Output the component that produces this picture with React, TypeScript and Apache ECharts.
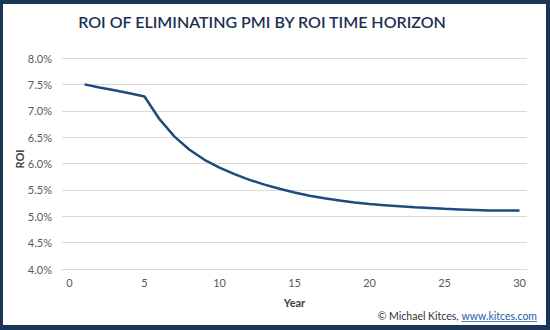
import React, { useEffect, useRef } from "react";
import * as echarts from "echarts";

const titleText = "ROI OF ELIMINATING PMI BY ROI TIME HORIZON";
const years = [1, 2, 3, 4, 5, 6, 7, 8, 9, 10, 11, 12, 13, 14, 15, 16, 17, 18, 19, 20, 21, 22, 23, 24, 25, 26, 27, 28, 29, 30];
const roi = [7.5, 7.44, 7.39, 7.33, 7.27, 6.84, 6.51, 6.26, 6.07, 5.92, 5.8, 5.69, 5.6, 5.52, 5.45, 5.39, 5.34, 5.3, 5.26, 5.23, 5.21, 5.19, 5.17, 5.155, 5.14, 5.13, 5.12, 5.11, 5.11, 5.11];
const xTicks = [0, 5, 10, 15, 20, 25, 30];
const footer = "© Michael Kitces, ";
const footerLink = "www.kitces.com";

export default function App() {
  const ref = useRef<HTMLDivElement>(null);
  useEffect(() => {
    const chart = echarts.init(ref.current!, null, { renderer: "svg" });
    const navy = "#1a3558";
    const font = "Lato, 'Open Sans', sans-serif";
    const footFont = `10.5px ${font}`;
    const ctx = document.createElement("canvas").getContext("2d")!;
    ctx.font = footFont;
    const linkW = ctx.measureText(footerLink).width;
    const rightEdge = 537;
    const linkX = rightEdge - linkW;
    chart.setOption({
      animation: false,
      backgroundColor: "#ffffff",
      grid: { left: 62, right: 23, top: 58, bottom: 61 },
      xAxis: {
        type: "value",
        min: -0.5,
        max: 30.5,
        name: "Year",
        nameLocation: "middle",
        nameGap: 28,
        nameTextStyle: { color: "#404040", fontWeight: "bold", fontSize: 11, fontFamily: font },
        axisLine: { show: true, lineStyle: { color: "#d9d9d9" } },
        axisTick: { show: false },
        splitLine: { show: false },
        axisLabel: {
          customValues: xTicks,
          color: "#595959",
          fontSize: 11,
          fontFamily: font,
          margin: 8,
        },
      },
      yAxis: {
        type: "value",
        min: 4,
        max: 8,
        interval: 0.5,
        axisLine: { show: false },
        axisTick: { show: false },
        splitLine: { lineStyle: { color: "#d9d9d9", width: 1 } },
        axisLabel: {
          color: "#595959",
          fontSize: 11,
          fontFamily: font,
          margin: 10,
          formatter: (v: number) => v.toFixed(1) + "%",
        },
      },
      series: [
        {
          type: "line",
          data: years.map((y, i) => [y, roi[i]]),
          showSymbol: false,
          lineStyle: { color: "#1d4c7c", width: 2.5 },
        },
      ],
      graphic: [
        { type: "rect", shape: { x: 0, y: 0, width: 550, height: 4 }, style: { fill: navy } },
        { type: "rect", shape: { x: 0, y: 325, width: 550, height: 5 }, style: { fill: navy } },
        { type: "rect", shape: { x: 0, y: 0, width: 3, height: 330 }, style: { fill: navy } },
        { type: "rect", shape: { x: 546, y: 0, width: 4, height: 330 }, style: { fill: navy } },
        {
          type: "text",
          x: 262,
          y: 21,
          style: {
            text: titleText,
            fill: "#1c3050",
            font: `600 16px ${font}`,
            textAlign: "center",
            textVerticalAlign: "middle",
          },
        },
        {
          type: "text",
          x: 19,
          y: 159,
          rotation: Math.PI / 2,
          style: {
            text: "ROI",
            fill: "#404040",
            font: `bold 11px ${font}`,
            textAlign: "center",
            textVerticalAlign: "middle",
          },
        },
        {
          type: "text",
          x: linkX,
          y: 316,
          style: {
            text: footer,
            fill: "#333333",
            font: footFont,
            textAlign: "right",
            textVerticalAlign: "middle",
          },
        },
        {
          type: "text",
          x: linkX,
          y: 316,
          style: {
            text: footerLink,
            fill: "#2060a8",
            font: footFont,
            textAlign: "left",
            textVerticalAlign: "middle",
          },
        },
        {
          type: "line",
          shape: { x1: linkX, y1: 321.5, x2: rightEdge, y2: 321.5 },
          style: { stroke: "#2060a8", lineWidth: 0.8 },
        },
      ],
    });
    return () => chart.dispose();
  }, []);
  return (
    <div
      ref={ref}
      style={{ position: "fixed", left: 0, top: 0, width: 550, height: 330 }}
    />
  );
}
